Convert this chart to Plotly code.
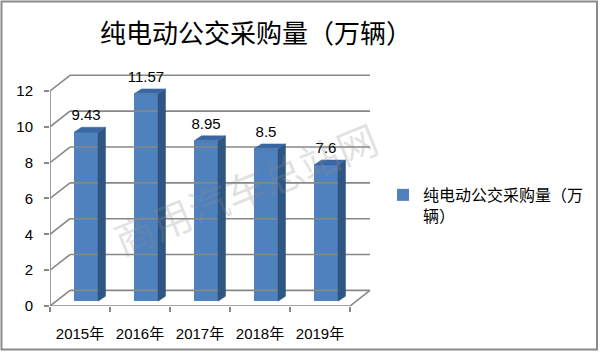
import plotly.graph_objects as go

# ---- data ----
categories = ["2015年", "2016年", "2017年", "2018年", "2019年"]
values = [9.43, 11.57, 8.95, 8.5, 7.6]
value_labels = ["9.43", "11.57", "8.95", "8.5", "7.6"]
y_ticks = [0, 2, 4, 6, 8, 10, 12]
title_text = "纯电动公交采购量（万辆）"
series_name = "纯电动公交采购量（万<br>辆）"
watermark = "商用汽车总站网"

# ---- styling / geometry constants ----
W, H = 600, 359
FRONT = "#4F81BD"
SIDE = "#2F5583"
TOP = "#3A67A2"
GRID = "#878787"
n = len(categories)
px_per_x = 60.0
px_per_y = 18.33
wall_dx = 20 / px_per_x          # depth of walls (x units)
wall_dy = 16 / px_per_y          # depth of walls (y units)
bar_left, bar_right = 0.4, 0.8   # front face within category
bar_base = 5 / px_per_y          # bars stand a bit back on the floor
bar_dx = 7.5 / px_per_x
bar_dy = 5 / px_per_y
label_gap = 16 / px_per_y

x0_px, x1_px = 50, 380
ybot_px, ytop_px = 313, 60
x_range = [0, (x1_px - x0_px) / px_per_x]
y_range = [0, (ybot_px - ytop_px) / px_per_y]

fig = go.Figure()

# ---- walls / floor / gridlines ----
gx, gy = [], []
for v in y_ticks:
    gx += [wall_dx, n + wall_dx, None]
    gy += [v + wall_dy, v + wall_dy, None]
    gx += [0, wall_dx, None]
    gy += [v, v + wall_dy, None]
gx += [0, n, None, n, n + wall_dx, None]
gy += [0, 0, None, 0, wall_dy, None]
gx += [0, 0, None]
gy += [0, max(y_ticks), None]
fig.add_trace(go.Scatter(x=gx, y=gy, mode="lines",
                         line=dict(color=GRID, width=1.6),
                         hoverinfo="skip", showlegend=False))

# ---- bars: front faces ----
centers = [i + (bar_left + bar_right) / 2 for i in range(n)]
fig.add_trace(go.Bar(x=centers, y=values, base=bar_base,
                     width=bar_right - bar_left, marker=dict(color=FRONT, line=dict(width=0)),
                     name=series_name, showlegend=True))

# ---- bars: side & top faces ----
for i, v in enumerate(values):
    xl, xr = i + bar_left, i + bar_right
    yb, yt = bar_base, bar_base + v
    fig.add_trace(go.Scatter(
        x=[xr, xr + bar_dx, xr + bar_dx, xr, xr],
        y=[yb, yb + bar_dy, yt + bar_dy, yt, yb],
        fill="toself", fillcolor=SIDE, mode="lines",
        line=dict(color=SIDE, width=0.5), hoverinfo="skip", showlegend=False))
    fig.add_trace(go.Scatter(
        x=[xl, xr, xr + bar_dx, xl + bar_dx, xl],
        y=[yt, yt, yt + bar_dy, yt + bar_dy, yt],
        fill="toself", fillcolor=TOP, mode="lines",
        line=dict(color=TOP, width=0.5), hoverinfo="skip", showlegend=False))

# ---- data labels ----
fig.add_trace(go.Scatter(
    x=centers, y=[bar_base + v + label_gap for v in values],
    text=value_labels, mode="text", textposition="middle center",
    textfont=dict(family="Liberation Sans, Arial", size=15, color="#000000"),
    hoverinfo="skip", showlegend=False, cliponaxis=False))

fig.update_layout(
    width=W, height=H,
    margin=dict(l=0, r=0, t=0, b=0),
    paper_bgcolor="white", plot_bgcolor="rgba(0,0,0,0)",
    title=dict(text=title_text, x=256 / W, xanchor="center",
               y=1 - 34 / H, yanchor="middle",
               font=dict(family="Noto Sans CJK SC", size=26, color="#000000")),
    xaxis=dict(domain=[x0_px / W, x1_px / W], range=x_range,
               tickmode="array", tickvals=[i + 0.5 for i in range(n)],
               ticktext=categories, ticks="", showgrid=False, zeroline=False,
               showline=False, ticklabelstandoff=17,
               tickfont=dict(family="Liberation Sans, Noto Sans CJK SC", size=15, color="#000000"),
               minor=dict(tickmode="array", tickvals=list(range(n + 1)),
                          ticks="outside", ticklen=5, tickcolor=GRID, tickwidth=1.5,
                          showgrid=False)),
    yaxis=dict(domain=[1 - ybot_px / H, 1 - ytop_px / H], range=y_range,
               tickmode="array", tickvals=y_ticks, ticks="outside",
               ticklen=5, tickcolor=GRID, tickwidth=1.5,
               showgrid=False, zeroline=False, showline=False,
               ticklabelstandoff=8,
               tickfont=dict(family="Liberation Sans, Arial", size=15, color="#000000")),
    legend=dict(x=383 / W, xanchor="left", y=1 - 182 / H, yanchor="top",
                valign="top", bgcolor="rgba(0,0,0,0)",
                font=dict(family="Noto Sans CJK SC", size=16, color="#000000")),
    bargap=0,
    shapes=[dict(type="rect", xref="paper", yref="paper",
                 x0=1.5 / W, x1=1 - 3 / W, y0=1.5 / H, y1=1 - 1.5 / H,
                 line=dict(color="#8a8a8a", width=2))],
    annotations=[dict(text=watermark, xref="paper", yref="paper",
                      x=245 / W, y=1 - 192 / H, showarrow=False,
                      textangle=-22,
                      font=dict(family="Noto Sans CJK SC", size=40,
                                color="rgba(140,140,140,0.25)"))],
)

fig.write_html("out.html")
